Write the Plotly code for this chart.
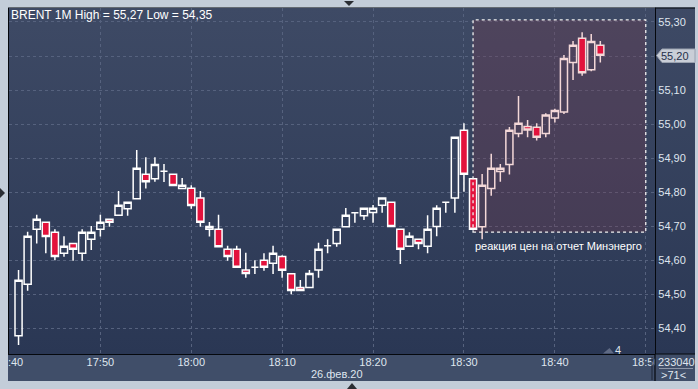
import base64
import plotly.graph_objects as go

# ---------------- data ----------------
DATE = "2020-02-26"
times = ["17:41", "17:42", "17:43", "17:44", "17:45", "17:46", "17:47", "17:48", "17:49", "17:50",
         "17:51", "17:52", "17:53", "17:54", "17:55", "17:56", "17:57", "17:58", "17:59", "18:00",
         "18:01", "18:02", "18:03", "18:04", "18:05", "18:06", "18:07", "18:08", "18:09", "18:10",
         "18:11", "18:12", "18:13", "18:14", "18:15", "18:16", "18:17", "18:18", "18:19", "18:20",
         "18:21", "18:22", "18:23", "18:24", "18:25", "18:26", "18:27", "18:28", "18:29", "18:30",
         "18:31", "18:32", "18:33", "18:34", "18:35", "18:36", "18:37", "18:38", "18:39", "18:40",
         "18:41", "18:42", "18:43", "18:44", "18:45"]
opens = [54.379, 54.530, 54.692, 54.712, 54.683, 54.621, 54.650, 54.621, 54.662, 54.692,
         54.721, 54.733, 54.752, 54.781, 54.853, 54.840, 54.862, 54.853, 54.811, 54.812,
         54.783, 54.692, 54.692, 54.633, 54.633, 54.572, 54.580, 54.601, 54.592, 54.612,
         54.561, 54.521, 54.521, 54.572, 54.643, 54.650, 54.699, 54.740, 54.731, 54.741,
         54.762, 54.771, 54.692, 54.642, 54.662, 54.642, 54.700, 54.771, 54.783, 54.982,
         54.840, 54.699, 54.811, 54.861, 54.882, 54.973, 54.993, 54.991, 54.973, 55.018,
         55.036, 55.181, 55.252, 55.160, 55.232]
highs = [54.572, 54.684, 54.734, 54.712, 54.692, 54.671, 54.650, 54.692, 54.701, 54.734,
         54.721, 54.804, 54.771, 54.924, 54.903, 54.903, 54.883, 54.853, 54.842, 54.821,
         54.804, 54.713, 54.734, 54.643, 54.643, 54.623, 54.601, 54.621, 54.643, 54.615,
         54.561, 54.543, 54.572, 54.652, 54.662, 54.692, 54.754, 54.740, 54.753, 54.763,
         54.783, 54.771, 54.692, 54.683, 54.662, 54.733, 54.762, 54.771, 54.962, 55.003,
         54.840, 54.854, 54.913, 54.883, 54.992, 55.083, 55.012, 55.003, 55.032, 55.045,
         55.203, 55.244, 55.270, 55.265, 55.244]
lows = [54.352, 54.511, 54.650, 54.621, 54.601, 54.611, 54.599, 54.599, 54.631, 54.670,
        54.699, 54.733, 54.731, 54.781, 54.811, 54.831, 54.830, 54.820, 54.811, 54.752,
        54.699, 54.670, 54.640, 54.599, 54.580, 54.549, 54.560, 54.570, 54.560, 54.549,
        54.501, 54.512, 54.521, 54.549, 54.621, 54.640, 54.699, 54.711, 54.719, 54.711,
        54.740, 54.700, 54.590, 54.642, 54.633, 54.621, 54.671, 54.740, 54.740, 54.802,
        54.692, 54.662, 54.790, 54.831, 54.852, 54.962, 54.962, 54.952, 54.962, 55.005,
        55.030, 55.130, 55.142, 55.155, 55.181]
closes = [54.542, 54.671, 54.721, 54.670, 54.612, 54.642, 54.633, 54.683, 54.683, 54.712,
          54.712, 54.762, 54.771, 54.871, 54.831, 54.882, 54.862, 54.820, 54.821, 54.761,
          54.712, 54.700, 54.640, 54.612, 54.580, 54.562, 54.580, 54.580, 54.621, 54.571,
          54.512, 54.512, 54.562, 54.633, 54.643, 54.692, 54.733, 54.740, 54.753, 54.753,
          54.783, 54.700, 54.633, 54.671, 54.650, 54.692, 54.753, 54.771, 54.962, 54.853,
          54.692, 54.821, 54.871, 54.871, 54.982, 55.003, 54.983, 54.962, 55.027, 55.040,
          55.193, 55.232, 55.151, 55.243, 55.202]
y_ticks = [54.40, 54.50, 54.60, 54.70, 54.80, 54.90, 55.00, 55.10, 55.20, 55.30]
last_price = 55.20

title_text = "BRENT 1M High = 55,27 Low = 54,35"
note_text = "реакция цен на отчет Минэнерго"
date_label = "26.фев.20"
last_price_label = "55,20"
corner_top = "233040"
corner_bottom = "&gt;71&lt;"
marker_label = "4"
box_start, box_end = "18:31", "18:50"
box_low, box_high = 54.683, 55.306
highlight_from = "18:32"

# ---------------- layout geometry (pixels) ----------------
W, H = 698, 389
L, R, T, B = 9, 655, 8, 354


def PX(px):
    return (px - L) / (R - L)


def PY(py):
    return (B - py) / (B - T)


FONT = "Liberation Sans Narrow, Arial Narrow, Liberation Sans, Arial, sans-serif"
RED = "#e3123c"
TXT = "#dfe5ee"

xs = [f"{DATE} {t}" for t in times]
inside = [t >= highlight_from for t in times]


def subset(seq, flag):
    return [v for v, f in zip(seq, inside) if f == flag]


fig = go.Figure()
for flag, lc in [(False, "#ffffff"), (True, "#f4d8d8")]:
    fig.add_trace(go.Candlestick(
        x=subset(xs, flag), open=subset(opens, flag), high=subset(highs, flag),
        low=subset(lows, flag), close=subset(closes, flag),
        increasing=dict(line=dict(color=lc, width=1.5), fillcolor="rgba(0,0,0,0)"),
        decreasing=dict(line=dict(color=lc, width=1.5), fillcolor=RED),
        whiskerwidth=0, showlegend=False, hoverinfo="skip",
    ))

# gradient background (plot area + right panel)
svg = ("<svg xmlns='http://www.w3.org/2000/svg' width='10' height='100' preserveAspectRatio='none'>"
       "<defs><linearGradient id='g' x1='0' y1='0' x2='0' y2='1'>"
       "<stop offset='0' stop-color='#3e4a65'/><stop offset='1' stop-color='#2a3754'/>"
       "</linearGradient></defs><rect width='10' height='100' fill='url(#g)'/></svg>")
img_src = "data:image/svg+xml;base64," + base64.b64encode(svg.encode()).decode()

shapes = []
# highlight rectangle fill and dotted border
shapes.append(dict(type="rect", xref="x", yref="y", x0=f"{DATE} {box_start}", x1=f"{DATE} {box_end}",
                   y0=box_low, y1=box_high, fillcolor="rgba(120,55,75,0.30)", line=dict(width=0),
                   layer="between"))
shapes.append(dict(type="rect", xref="x", yref="y", x0=f"{DATE} {box_start}", x1=f"{DATE} {box_end}",
                   y0=box_low, y1=box_high, fillcolor="rgba(0,0,0,0)",
                   line=dict(color="#f0f0f0", width=1.3, dash="dot"), layer="above"))

FRAME = "#c3cdd9"
# outer frame strips
shapes += [
    dict(type="rect", xref="paper", yref="paper", x0=PX(0), x1=PX(8), y0=PY(389), y1=PY(0),
         fillcolor=FRAME, line=dict(width=0), layer="above"),
    dict(type="rect", xref="paper", yref="paper", x0=PX(0), x1=PX(698), y0=PY(7.5), y1=PY(0),
         fillcolor=FRAME, line=dict(width=0), layer="above"),
    dict(type="rect", xref="paper", yref="paper", x0=PX(0), x1=PX(698), y0=PY(389), y1=PY(381),
         fillcolor=FRAME, line=dict(width=0), layer="above"),
    dict(type="rect", xref="paper", yref="paper", x0=PX(695), x1=PX(698), y0=PY(389), y1=PY(0),
         fillcolor=FRAME, line=dict(width=0), layer="above"),
    # bottom-right corner box (covers overflow of last time label)
    dict(type="rect", xref="paper", yref="paper", x0=PX(655), x1=PX(695), y0=PY(381), y1=PY(354),
         fillcolor="#404e69", line=dict(width=0), layer="above"),
]
# extended black frame lines
shapes += [
    dict(type="line", xref="paper", yref="paper", x0=PX(655), x1=PX(695), y0=PY(354), y1=PY(354),
         line=dict(color="#05080d", width=1.2), layer="above"),
    dict(type="line", xref="paper", yref="paper", x0=PX(655), x1=PX(655), y0=PY(381), y1=PY(354),
         line=dict(color="#05080d", width=1.2), layer="above"),
    dict(type="line", xref="paper", yref="paper", x0=PX(655), x1=PX(695), y0=PY(8), y1=PY(8),
         line=dict(color="#05080d", width=1.2), layer="above"),
    dict(type="line", xref="paper", yref="paper", x0=PX(659), x1=PX(693), y0=PY(368.5), y1=PY(368.5),
         line=dict(color="#8c96a8", width=1), layer="above"),
    dict(type="line", xref="paper", yref="paper", x0=PX(652), x1=PX(652), y0=PY(380), y1=PY(357),
         line=dict(color="#1c2436", width=1), layer="above"),
]


def path(points):
    return "M " + " L ".join(f"{PX(a)},{PY(b)}" for a, b in points) + " Z"


# frame triangles
shapes += [
    dict(type="path", xref="paper", yref="paper", path=path([(0, 188), (5, 193), (0, 198)]),
         fillcolor="#2a2d33", line=dict(width=0), layer="above"),
    dict(type="path", xref="paper", yref="paper", path=path([(344, 1), (354, 1), (349, 6)]),
         fillcolor="#2a2d33", line=dict(width=0), layer="above"),
    dict(type="path", xref="paper", yref="paper", path=path([(347, 389), (357, 389), (352, 383)]),
         fillcolor="#2a2d33", line=dict(width=0), layer="above"),
    # small grey marker triangle near "4"
    dict(type="path", xref="paper", yref="paper", path=path([(603, 353.5), (614, 353.5), (609.5, 348)]),
         fillcolor="#5f6a84", line=dict(width=0), layer="above"),
    # last price tag on the price axis
    dict(type="path", xref="paper", yref="paper",
         path=path([(656.5, 55.5), (662, 49), (695, 49), (695, 62.5), (662, 62.5)]),
         fillcolor="#c9ced7", line=dict(color="#9aa2b0", width=1), layer="above"),
]

annotations = [
    dict(text=title_text, xref="paper", yref="paper", x=PX(9), y=PY(15), xanchor="left",
         yanchor="middle", showarrow=False, font=dict(family=FONT, size=12, color="#ffffff")),
    dict(text=note_text, xref="paper", yref="paper", x=PX(558), y=PY(245.5), xanchor="center",
         yanchor="middle", showarrow=False, font=dict(family=FONT, size=11, color="#ffffff")),
    dict(text=date_label, xref="paper", yref="paper", x=PX(337), y=PY(374), xanchor="center",
         yanchor="middle", showarrow=False, font=dict(family=FONT, size=11, color=TXT)),
    dict(text=last_price_label, xref="paper", yref="paper", x=PX(659), y=PY(55.8), xanchor="left",
         yanchor="middle", showarrow=False, font=dict(family=FONT, size=11, color="#26304a")),
    dict(text=corner_top, xref="paper", yref="paper", x=PX(676), y=PY(362), xanchor="center",
         yanchor="middle", showarrow=False, font=dict(family=FONT, size=11, color=TXT)),
    dict(text=corner_bottom, xref="paper", yref="paper", x=PX(674), y=PY(375), xanchor="center",
         yanchor="middle", showarrow=False, font=dict(family=FONT, size=11, color=TXT)),
    dict(text=marker_label, xref="paper", yref="paper", x=PX(617.5), y=PY(349.5), xanchor="center",
         yanchor="middle", showarrow=False, font=dict(family=FONT, size=11, color=TXT)),
]

# price tick labels (the last price is shown in the tag instead)
y_ticktext = ["" if abs(v - last_price) < 1e-9 else f"{v:.2f}".replace(".", ",") for v in y_ticks]

GRID = "#56627e"
fig.update_layout(
    width=W, height=H,
    margin=dict(l=L, r=W - R, t=T, b=H - B, pad=0, autoexpand=False),
    paper_bgcolor="#404e69",
    plot_bgcolor="rgba(0,0,0,0)",
    separators=", ",
    boxgap=0.22, boxgroupgap=0,
    font=dict(family=FONT, size=11, color=TXT),
    shapes=shapes,
    annotations=annotations,
    images=[dict(source=img_src, xref="paper", yref="paper", x=PX(9), y=PY(8),
                 sizex=PX(695) - PX(9), sizey=PY(8) - PY(354), xanchor="left", yanchor="top",
                 sizing="stretch", layer="below")],
    xaxis=dict(
        type="date", range=[f"{DATE} 17:39:57", f"{DATE} 18:51:01"],
        tick0=f"{DATE} 17:40", dtick=600000, tickformat="%H:%M",
        showgrid=True, gridcolor=GRID, gridwidth=1, griddash="3px,3px",
        ticks="", showline=True, mirror=True, linecolor="#05080d", linewidth=1.2,
        rangeslider=dict(visible=False), zeroline=False, ticklabelstandoff=-2,
        ticklabeloverflow="allow", automargin=False,
        tickfont=dict(family=FONT, size=11, color=TXT),
        fixedrange=True,
    ),
    yaxis=dict(
        side="right", range=[54.3255, 55.341], tickvals=y_ticks, ticktext=y_ticktext,
        showgrid=True, gridcolor=GRID, gridwidth=1, griddash="3px,3px",
        ticks="", showline=True, mirror=True, linecolor="#05080d", linewidth=1.2,
        zeroline=False, automargin=False, tickfont=dict(family=FONT, size=11, color=TXT),
        fixedrange=True,
    ),
)

fig.write_html("out.html")
